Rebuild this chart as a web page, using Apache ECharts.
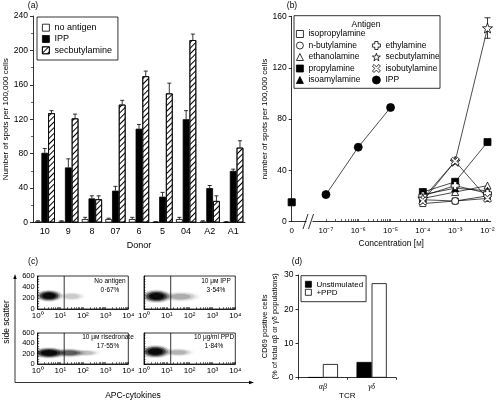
<!DOCTYPE html>
<html><head><meta charset="utf-8">
<script src="https://cdn.jsdelivr.net/npm/echarts@6/dist/echarts.min.js"></script>
<style>html,body{margin:0;padding:0;background:#fff}#c{width:498px;height:403px}</style>
</head><body><div id="c"></div>
<script>
// ---------- (a) ELISPOT by donor ----------
const donors = ['10','9','8','07','6','5','04','A2','A1'];
const noAntigen    = [1, 1, 4, 4, 4, 0.5, 4, 1, 0.5];
const noAntigenTop = [2, 2, 6, 5, 6, 1, 6, 2, 1];
const ippA         = [81, 64, 28, 37, 109, 30, 120, 40, 60];
const ippATop      = [86, 74, 31, 42, 114, 35, 130, 43, 62];
const secA         = [127, 121, 27, 137, 170, 150, 212, 25, 87];
const secATop      = [130, 126, 31, 142, 176, 162, 219, 31, 95];
const yTicksA = [0, 240, 40];

// ---------- (b) dose response ----------
const concAmine = [1e-4, 1e-3, 1e-2];
const isopropylamine = [14, 16, 18];
const nButylamine    = [17, 16, 20];
const ethanolamine   = [18, 23, 28];
const propylamine    = [23, 31, 62];
const isoamylamine   = [21, 26, 24];
const ethylamine     = [20, 28, 22];
const secbutylamine  = [18, 47, 151];
const secbutylErr    = [0, 0, 8];
const isobutylamine  = [16, 47, 18];
const concIPP = [1e-7, 1e-6, 1e-5];
const ippB    = [21, 58, 89];
const concMedium = [0];
const medium     = [15];
const decadesB = [-7, -6, -5, -4, -3, -2];

// ---------- (c) flow cytometry ----------
const flowTitles = ['No antigen', '10\u00a0μм IPP', '10\u00a0μм risedronate', '10\u00a0μg/ml PPD'];
const flowPercents = ['0·67%', '3·54%', '17·55%', '1·84%'];
const sscTicks = [0, 200, 400, 600];
const gateLog = 1.17;
// [centre log10 fluorescence, centre side scatter, half width (decades), half height, density]
const cloudNoAntigen   = [[0.5, 240, 0.5, 90, 1.0], [1.5, 230, 0.55, 70, 0.12]];
const cloudIPP         = [[0.55, 230, 0.55, 100, 1.0], [1.6, 225, 0.75, 80, 0.2]];
const cloudRisedronate = [[0.5, 215, 0.62, 90, 1.0], [1.4, 215, 0.6, 75, 0.45], [2.1, 215, 0.6, 60, 0.15]];
const cloudPPD         = [[0.5, 240, 0.55, 105, 1.0], [1.5, 225, 0.6, 70, 0.18]];

// ---------- (d) CD69 ----------
const tcr = ['αβ', 'γδ'];
const unstimulated = [0.15, 4.6];
const plusPPD      = [4.0, 27.6];

// ================= helpers =================
const FONT = '"Liberation Sans", Arial, sans-serif';
const SUP = {'0':'⁰','1':'¹','2':'²','3':'³','4':'⁴','5':'⁵','6':'⁶','7':'⁷','8':'⁸','9':'⁹','-':'⁻'};
const pow10 = n => '10' + String(n).split('').map(c => SUP[c]).join('');
const ZERO_POS = -8.06;
const xPos = c => c === 0 ? ZERO_POS : Math.log10(c);
const BLK = '#000';
const axisLine = {show: true, lineStyle: {color: BLK, width: 0.8}};

const ticksB = [];
for (let n = -7; n <= -3; n++) for (let k = 1; k <= 9; k++) ticksB.push(n + Math.log10(k));
ticksB.push(-2);
const ticksC = [];
for (let n = 0; n <= 3; n++) for (let k = 1; k <= 9; k++) ticksC.push(n + Math.log10(k));
ticksC.push(4);
const minorSsc = [];
for (let v = 0; v <= 600; v += 50) minorSsc.push(v);

const HATCH = {symbol: 'rect', symbolSize: 1, dashArrayX: [1, 0], dashArrayY: [1, 2.2],
  rotation: -Math.PI / 4, color: BLK};

function ln(x1, y1, x2, y2) {
  return {type: 'line', shape: {x1, y1, x2, y2}, style: {stroke: BLK, lineWidth: 0.8}};
}
function errA(k) {
  return function (params, api) {
    const i = api.value(0);
    const b = api.coord([i, api.value(1)]);
    const t = api.coord([i, api.value(2)]);
    const band = api.size([1, 0])[0];
    const bw = band * 0.86 / 3;
    const x = b[0] + k * bw;
    const c = bw * 0.3;
    return {type: 'group', children: [ln(x, b[1], x, t[1]), ln(x - c, t[1], x + c, t[1])]};
  };
}
function errB(params, api) {
  const x = api.value(0);
  const lo = api.coord([x, api.value(1)]);
  const hi = api.coord([x, api.value(2)]);
  const c = 3;
  return {type: 'group', children: [ln(lo[0], lo[1], hi[0], hi[1]), ln(hi[0] - c, hi[1], hi[0] + c, hi[1]), ln(lo[0] - c, lo[1], lo[0] + c, lo[1])]};
}
function cloudRender(params, api) {
  const cx = api.value(0), cy = api.value(1), rx = api.value(2), ry = api.value(3), d = api.value(4);
  const layers = [[1.2, 0.14], [1.0, 0.3], [0.82, 0.55], [0.6, 0.85]];
  const cs = params.coordSys;
  const children = layers.map(([s, o]) => {
    const pts = [];
    for (let t = 0; t < 40; t++) {
      const a = t / 40 * 2 * Math.PI;
      const p = api.coord([cx + s * rx * Math.cos(a), cy + s * ry * Math.sin(a)]);
      pts.push([Math.max(cs.x, Math.min(cs.x + cs.width, p[0])), Math.max(cs.y, Math.min(cs.y + cs.height, p[1]))]);
    }
    return {type: 'polygon', shape: {points: pts}, style: {fill: BLK, opacity: o * d}};
  });
  return {type: 'group', children};
}
function gateRender(params, api) {
  const cs = params.coordSys;
  const p = api.coord([api.value(0), 0]);
  return ln(p[0], cs.y, p[0], cs.y + cs.height);
}

// ================= grids & axes =================
const gridsC = [
  {left: 37.7, top: 276, width: 90.6, height: 33},
  {left: 144, top: 276, width: 91.3, height: 33},
  {left: 37.7, top: 333, width: 90.6, height: 31},
  {left: 144, top: 333, width: 91.3, height: 31}
];
const grid = [
  {left: 33, top: 16, width: 212, height: 206.5},
  {left: 291.7, top: 16.5, width: 199, height: 205},
  ...gridsC.map(g => Object.assign({show: true, borderColor: BLK, borderWidth: 0.8}, g)),
  {left: 298.5, top: 275, width: 97.5, height: 102.7}
];

const xAxis = [
  {type: 'category', gridIndex: 0, data: donors, axisLine, axisTick: {show: false},
   axisLabel: {color: BLK, fontSize: 9, margin: 5},
   name: 'Donor', nameLocation: 'middle', nameGap: 15, nameTextStyle: {fontSize: 9, color: BLK}},
  {type: 'value', gridIndex: 1, min: ZERO_POS, max: -1.9, axisLine, splitLine: {show: false},
   axisTick: {show: true, inside: true, length: 2.5, customValues: ticksB, lineStyle: {color: BLK, width: 0.6}},
   axisLabel: {color: BLK, fontSize: 8, margin: 5, customValues: [ZERO_POS].concat(decadesB),
     formatter: v => Math.abs(v - ZERO_POS) < 1e-6 ? '0' : pow10(Math.round(v))},
   name: 'Concentration [{s|M}]', nameLocation: 'middle', nameGap: 17,
   nameTextStyle: {fontSize: 8.5, color: BLK, rich: {s: {fontSize: 6.5, color: BLK}}}}
];
const yAxis = [
  {type: 'value', gridIndex: 0, min: yTicksA[0], max: yTicksA[1], interval: yTicksA[2], axisLine,
   axisTick: {show: true, length: 3, lineStyle: {color: BLK, width: 0.8}},
   minorTick: {show: true, splitNumber: 2, length: 2, lineStyle: {color: BLK, width: 0.6}},
   splitLine: {show: false}, axisLabel: {color: BLK, fontSize: 8.5, margin: 5},
   name: 'Number of spots per 100,000 cells', nameLocation: 'middle', nameGap: 20, nameRotate: 90,
   nameTextStyle: {fontSize: 8, color: BLK}},
  {type: 'value', gridIndex: 1, min: 0, max: 160, interval: 40, axisLine,
   axisTick: {show: true, length: 3, lineStyle: {color: BLK, width: 0.8}},
   splitLine: {show: false}, axisLabel: {color: BLK, fontSize: 8.5, margin: 5},
   name: 'number of spots per 100,000 cells', nameLocation: 'middle', nameGap: 20, nameRotate: 90,
   nameTextStyle: {fontSize: 8, color: BLK}}
];
gridsC.forEach((g, i) => {
  xAxis.push({type: 'value', gridIndex: 2 + i, min: 0, max: 4, interval: 1, axisLine, splitLine: {show: false},
    axisTick: {show: true, inside: true, length: 2, customValues: ticksC, lineStyle: {color: BLK, width: 0.5}},
    axisLabel: {color: BLK, fontSize: 8, margin: 3, formatter: v => pow10(v)}});
  yAxis.push({type: 'value', gridIndex: 2 + i, min: 0, max: 600, interval: 200, axisLine, splitLine: {show: false},
    axisTick: {show: true, inside: true, length: 1.5, customValues: minorSsc, lineStyle: {color: BLK, width: 0.5}},
    axisLabel: {show: false}});
});
xAxis.push({type: 'category', gridIndex: 6, data: tcr, axisLine,
  axisTick: {show: true, length: 2, lineStyle: {color: BLK, width: 0.8}},
  axisLabel: {color: BLK, fontSize: 8, fontStyle: 'italic', fontFamily: '"Liberation Serif", serif', margin: 5},
  name: 'TCR', nameLocation: 'middle', nameGap: 11, nameTextStyle: {fontSize: 8, color: BLK}});
yAxis.push({type: 'value', gridIndex: 6, min: 0, max: 30, interval: 10, axisLine,
  axisTick: {show: true, length: 3, lineStyle: {color: BLK, width: 0.8}},
  splitLine: {show: false}, axisLabel: {color: BLK, fontSize: 8.5, margin: 5},
  name: 'CD69 positive cells\n(% of total αβ or γδ populations)', nameLocation: 'middle', nameGap: 16, nameRotate: 90,
  nameTextStyle: {fontSize: 7.5, color: BLK, lineHeight: 10}});

// ================= series =================
const series = [];
const barStyle = (fill, extra) => Object.assign({color: fill, borderColor: BLK, borderWidth: 0.8}, extra || {});
series.push({type: 'bar', name: 'no antigen', xAxisIndex: 0, yAxisIndex: 0, data: noAntigen,
  barGap: '0%', barCategoryGap: '14%', itemStyle: barStyle('#fff')});
series.push({type: 'bar', name: 'IPP', xAxisIndex: 0, yAxisIndex: 0, data: ippA, itemStyle: barStyle(BLK)});
series.push({type: 'bar', name: 'secbutylamine', xAxisIndex: 0, yAxisIndex: 0, data: secA,
  itemStyle: barStyle('#fff', {decal: HATCH})});
[[noAntigen, noAntigenTop, -1], [ippA, ippATop, 0], [secA, secATop, 1]].forEach(([v, t, k]) => {
  series.push({type: 'custom', xAxisIndex: 0, yAxisIndex: 0, z: 3, renderItem: errA(k),
    data: v.map((val, i) => [i, val, t[i]])});
});

const STAR = 'path://M10,0 L12.35,6.76 L19.51,6.91 L13.8,11.24 L15.88,18.09 L10,14 L4.12,18.09 L6.2,11.24 L0.49,6.91 L7.65,6.76 Z';
const PLUS = 'path://M3,0 H7 V3 H10 V7 H7 V10 H3 V7 H0 V3 H3 Z';
const XMARK = 'path://M0,2 L2,0 L5,3 L8,0 L10,2 L7,5 L10,8 L8,10 L5,7 L2,10 L0,8 L3,5 Z';
const amineDefs = [
  ['isopropylamine', isopropylamine, 'rect', '#fff', 6],
  ['n-butylamine', nButylamine, 'circle', '#fff', 7],
  ['ethanolamine', ethanolamine, 'triangle', '#fff', 7],
  ['propylamine', propylamine, 'rect', BLK, 7],
  ['isoamylamine', isoamylamine, 'triangle', BLK, 7],
  ['ethylamine', ethylamine, PLUS, '#fff', 8],
  ['secbutylamine', secbutylamine, STAR, '#fff', 10],
  ['isobutylamine', isobutylamine, XMARK, '#fff', 8]
];
amineDefs.forEach(([name, vals, sym, fill, size]) => {
  series.push({type: 'line', name: 'b:' + name, xAxisIndex: 1, yAxisIndex: 1, z: 4,
    symbol: sym, symbolSize: size, showAllSymbol: true,
    lineStyle: {color: BLK, width: 0.7}, itemStyle: {color: fill, borderColor: BLK, borderWidth: 0.8},
    data: concAmine.map((c, i) => [xPos(c), vals[i]])});
});
series.push({type: 'line', name: 'b:IPP', xAxisIndex: 1, yAxisIndex: 1, z: 4, symbol: 'circle', symbolSize: 8,
  lineStyle: {color: BLK, width: 0.7}, itemStyle: {color: BLK, borderColor: BLK, borderWidth: 0.8},
  data: concIPP.map((c, i) => [xPos(c), ippB[i]])});
series.push({type: 'line', name: 'b:medium', xAxisIndex: 1, yAxisIndex: 1, z: 4, symbol: 'rect', symbolSize: 7,
  lineStyle: {width: 0}, itemStyle: {color: BLK, borderColor: BLK},
  data: concMedium.map((c, i) => [xPos(c), medium[i]])});
series.push({type: 'custom', xAxisIndex: 1, yAxisIndex: 1, z: 2, renderItem: errB,
  data: concAmine.map((c, i) => [xPos(c), secbutylamine[i] - secbutylErr[i], secbutylamine[i] + secbutylErr[i]])
    .filter((d, i) => secbutylErr[i] > 0)});

[cloudNoAntigen, cloudIPP, cloudRisedronate, cloudPPD].forEach((cl, i) => {
  series.push({type: 'custom', xAxisIndex: 2 + i, yAxisIndex: 2 + i, renderItem: cloudRender, data: cl});
  series.push({type: 'custom', xAxisIndex: 2 + i, yAxisIndex: 2 + i, renderItem: gateRender, data: [[gateLog]]});
});

series.push({type: 'bar', name: 'Unstimulated', xAxisIndex: 6, yAxisIndex: 6, data: unstimulated,
  barGap: '0%', barCategoryGap: '38%', itemStyle: barStyle(BLK)});
series.push({type: 'bar', name: '+PPD', xAxisIndex: 6, yAxisIndex: 6, data: plusPPD, itemStyle: barStyle('#fff')});

// ================= legends =================
const openS = {color: '#fff', borderColor: BLK, borderWidth: 0.8};
const fillS = {color: BLK, borderColor: BLK, borderWidth: 0.8};
const legendBase = {orient: 'vertical', selectedMode: false, itemGap: 1.3,
  textStyle: {fontSize: 9, color: BLK, lineHeight: 10, fontFamily: FONT},
  formatter: n => n.replace(/^b:/, '')};
const legend = [
  Object.assign({}, legendBase, {left: 37, top: 17, itemWidth: 7, itemHeight: 7,
    borderColor: BLK, borderWidth: 0.8, borderRadius: 0, padding: [5.7, 6, 4.7, 5],
    data: [{name: 'no antigen', icon: 'rect', itemStyle: openS},
           {name: 'IPP', icon: 'rect', itemStyle: fillS},
           {name: 'secbutylamine', icon: 'rect', itemStyle: Object.assign({decal: HATCH}, openS)}]}),
  Object.assign({}, legendBase, {left: 296, top: 29, itemWidth: 7, itemHeight: 7, padding: 0, itemGap: 1.5,
    textStyle: {fontSize: 8.5, color: BLK, lineHeight: 10, fontFamily: FONT},
    data: [{name: 'b:isopropylamine', icon: 'rect', itemStyle: openS},
           {name: 'b:n-butylamine', icon: 'circle', itemStyle: openS},
           {name: 'b:ethanolamine', icon: 'triangle', itemStyle: openS},
           {name: 'b:propylamine', icon: 'rect', itemStyle: fillS},
           {name: 'b:isoamylamine', icon: 'triangle', itemStyle: fillS}]}),
  Object.assign({}, legendBase, {left: 372, top: 40.5, itemWidth: 8, itemHeight: 8, padding: 0, itemGap: 1.5,
    textStyle: {fontSize: 8.5, color: BLK, lineHeight: 10, fontFamily: FONT},
    data: [{name: 'b:ethylamine', icon: PLUS, itemStyle: openS},
           {name: 'b:secbutylamine', icon: STAR, itemStyle: openS},
           {name: 'b:isobutylamine', icon: XMARK, itemStyle: openS},
           {name: 'b:IPP', icon: 'circle', itemStyle: fillS}]}),
  Object.assign({}, legendBase, {left: 301, top: 275.7, itemWidth: 6, itemHeight: 6, itemGap: 0,
    borderColor: BLK, borderWidth: 0.8, padding: [4.6, 3, 5.4, 4],
    textStyle: {fontSize: 8, color: BLK, lineHeight: 8, fontFamily: FONT},
    data: [{name: 'Unstimulated', icon: 'rect', itemStyle: fillS},
           {name: '+PPD', icon: 'rect', itemStyle: openS}]})
];

// ================= decorations & annotation text =================
const txt = (x, y, text, size, extra) => ({type: 'text', x, y, z: 100,
  style: Object.assign({text, fontSize: size, fill: BLK, fontFamily: FONT, textAlign: 'center', textVerticalAlign: 'middle'}, extra || {})});
const graphic = [
  txt(33, 6, '(a)', 8.5), txt(292, 6, '(b)', 8.5), txt(33, 262, '(c)', 8.5), txt(297, 262, '(d)', 8.5),
  {type: 'rect', shape: {x: 294, y: 15.7, width: 146, height: 72.6}, style: {fill: 'none', stroke: BLK, lineWidth: 0.8}},
  txt(366, 24.5, 'Antigen', 8.5),
  {type: 'rect', shape: {x: 306.5, y: 219, width: 6, height: 5}, style: {fill: '#fff'}, z: 50},
  {type: 'line', shape: {x1: 303, y1: 229, x2: 308, y2: 214}, style: {stroke: BLK, lineWidth: 0.8}, z: 51},
  {type: 'line', shape: {x1: 308.5, y1: 229, x2: 313.5, y2: 214}, style: {stroke: BLK, lineWidth: 0.8}, z: 51},
  // flow panel annotations
  txt(110, 281, flowTitles[0], 6.5), txt(110, 290, flowPercents[0], 6.5),
  txt(216, 281, flowTitles[1], 6.5), txt(216, 290, flowPercents[1], 6.5),
  txt(108, 337.5, flowTitles[2], 6.5), txt(108, 346, flowPercents[2], 6.5),
  txt(214, 337.5, flowTitles[3], 6.5), txt(214, 346, flowPercents[3], 6.5),
  // big axes of (c)
  {type: 'line', shape: {x1: 15, y1: 382.5, x2: 15, y2: 277}, style: {stroke: BLK, lineWidth: 0.8}},
  {type: 'polygon', shape: {points: [[13.3, 279], [16.7, 279], [15, 274]]}, style: {fill: BLK}},
  {type: 'line', shape: {x1: 15, y1: 382.5, x2: 251, y2: 382.5}, style: {stroke: BLK, lineWidth: 0.8}},
  {type: 'polygon', shape: {points: [[249, 380.8], [249, 384.2], [254, 382.5]]}, style: {fill: BLK}},
  txt(7, 322, 'side scatter', 8.5, {}), txt(133, 396, 'APC-cytokines', 8.5)
];
graphic[graphic.length - 2].rotation = Math.PI / 2;

const chart = echarts.init(document.getElementById('c'), null, {renderer: 'canvas'});
chart.setOption({
  animation: false,
  backgroundColor: '#fff',
  textStyle: {fontFamily: FONT, color: BLK},
  grid, xAxis, yAxis, series, legend, graphic
});

// side-scatter tick labels of the left flow panels, placed through the axes' own scale
const sscLabels = [];
[0, 2].forEach(i => {
  const axisX = chart.convertToPixel({xAxisIndex: 2 + i}, 0);
  sscTicks.forEach(v => {
    const y = chart.convertToPixel({yAxisIndex: 2 + i}, v);
    sscLabels.push(txt(axisX - 3, y, String(v), 7.5, {textAlign: 'right'}));
  });
});
chart.setOption({graphic: graphic.concat(sscLabels)});
</script>
</body></html>
